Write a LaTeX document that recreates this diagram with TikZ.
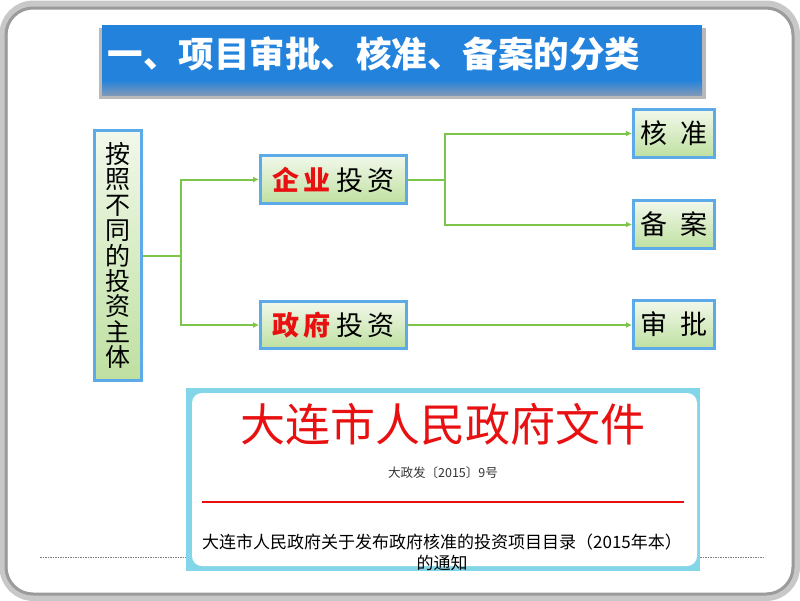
\documentclass[tikz,border=0pt]{standalone}
\usepackage{fontspec}
\setmainfont{Noto Sans CJK SC}
\usetikzlibrary{arrows.meta}

\begin{document}
\begin{tikzpicture}[x=1pt,y=-1pt]
    % Define colors
    \definecolor{titleblue}{RGB}{35,131,220}
    \definecolor{titlefade}{RGB}{125,152,185}
    \definecolor{boxborder}{RGB}{92,170,232}
    \definecolor{boxtop}{RGB}{242,248,235}
    \definecolor{boxbottom}{RGB}{190,224,160}
    \definecolor{linkgreen}{RGB}{124,196,74}
    \definecolor{doccyan}{RGB}{130,214,232}
    \definecolor{docred}{RGB}{232,16,16}
    \definecolor{framegray}{RGB}{155,155,155}

    \tikzset{
      box/.style={draw=boxborder, line width=3pt, top color=boxtop, bottom color=boxbottom,
                  inner sep=0pt, font=\fontsize{27}{30}\selectfont},
      link/.style={draw=linkgreen, line width=2pt, -{Latex[length=6pt,width=6pt]}},
    }

    % Page frame
    \useasboundingbox (0,0) rectangle (800,600);
    \fill[white] (0,0) rectangle (800,600);
    \draw[framegray!55, line width=8pt, rounded corners=30pt] (3.5,4.5) rectangle (796,597);
    \draw[framegray, line width=3pt, rounded corners=27pt] (6,8) rectangle (793,594);

    % Title bar
    \fill[gray!55] (99,28) rectangle (706,99);
    \fill[titleblue] (102,25) rectangle (702,80);
    \shade[top color=titleblue, bottom color=titlefade] (102,80) rectangle (702,95);
    \node[text=white, anchor=west, font=\fontsize{35.5}{40}\selectfont\bfseries] (title) at (104,54) {一、项目审批、核准、备案的分类};

    % Boxes
    \node[box, minimum width=47pt, minimum height=250pt, align=center,
          font=\fontsize{25}{25.4}\selectfont] (basis) at (118,255.5) {按\\照\\不\\同\\的\\投\\资\\主\\体};
    \node[box, minimum width=146pt, minimum height=48pt] (enterprise) at (333.5,179.5)
        {\textcolor{docred}{\textbf{企\hspace{5pt}业}}\hspace{5pt}投\hspace{5pt}资};
    \node[box, minimum width=146pt, minimum height=47pt] (government) at (333.5,325)
        {\textcolor{docred}{\textbf{政\hspace{5pt}府}}\hspace{5pt}投\hspace{5pt}资};
    \node[box, minimum width=81pt, minimum height=48pt] (approve) at (674,133.5) {核\hspace{14pt}准};
    \node[box, minimum width=81pt, minimum height=48pt] (record) at (674,224.5) {备\hspace{14pt}案};
    \node[box, minimum width=81pt, minimum height=48pt] (review) at (674,324.5) {审\hspace{14pt}批};

    % Connectors
    \coordinate (fork1) at ([xshift=38pt]basis.east);
    \coordinate (fork2) at ([xshift=37pt]enterprise.east);
    \draw[link] (basis.east) -- (fork1) |- (enterprise.west);
    \draw[link] (fork1) |- (government.west);
    \draw[link] (enterprise.east) -- (fork2) |- (approve.west);
    \draw[link] (fork2) |- (record.west);
    \draw[link] (government.east) -- (government.east -| review.west);

    % Document picture
    \draw[gray, line width=0.6pt, dash pattern=on 1.5pt off 1pt] (40,557) -- (763,557);
    \fill[doccyan] (186,388) rectangle (700,571);
    \fill[white, rounded corners=10pt] (192,393) rectangle (697,566);
    \node[text=docred, font=\fontsize{45}{50}\selectfont] (doctitle) at (443,424) {大连市人民政府文件};
    \node[text=black!80, font=\fontsize{12.5}{14}\selectfont] (docno) at (443,473) {大政发〔2015〕9号};
    \draw[docred, line width=1.2pt] (202,502) -- (684,502);
    \node[align=center, font=\fontsize{17}{21}\selectfont] (docname) at (442,552)
        {大连市人民政府关于发布政府核准的投资项目目录（2015年本）\\的通知};
\end{tikzpicture}
\end{document}
